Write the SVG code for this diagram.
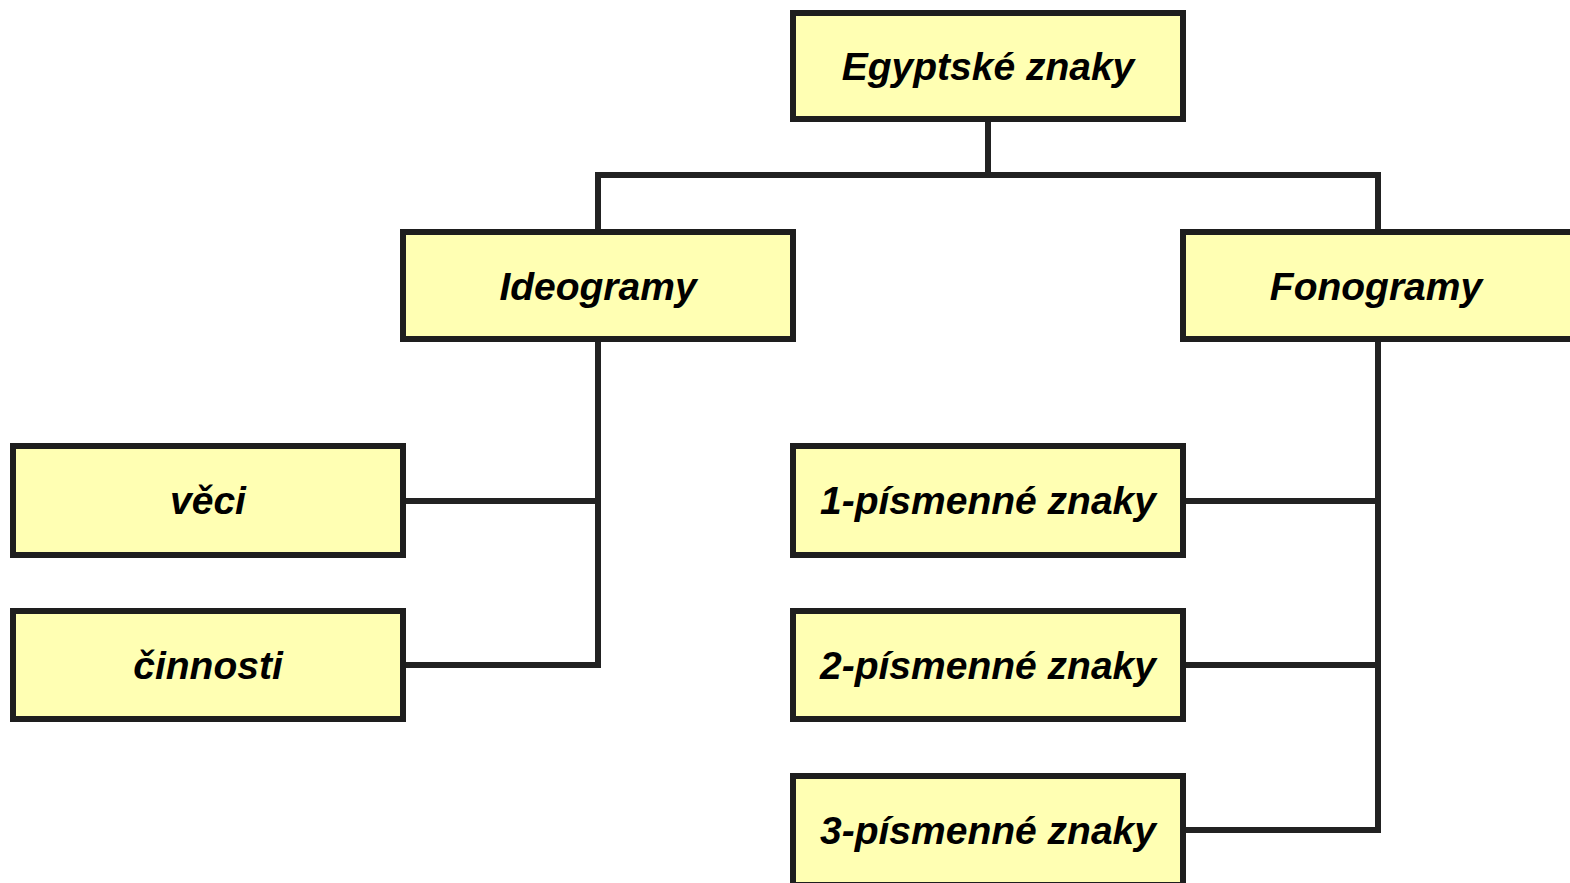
<svg xmlns="http://www.w3.org/2000/svg" width="1570" height="883" viewBox="0 0 1570 883">
<style>
.box{fill:#ffffb3;stroke:#1e1e1e;stroke-width:6}
.lbl{font-family:"Liberation Sans",Arial,sans-serif;font-weight:bold;font-style:italic;font-size:39px;fill:#000;text-anchor:middle}
.con{fill:none;stroke:#222;stroke-width:6;stroke-linecap:square}
</style>
<rect width="1570" height="883" fill="#fff"/>
<g id="connectors">
<path class="con" d="M988 122V175"/>
<path class="con" d="M598 229V175H1378V229"/>
<path class="con" d="M598 342V665H406"/>
<path class="con" d="M406 501H598"/>
<path class="con" d="M1378 342V830H1186"/>
<path class="con" d="M1186 501H1378"/>
<path class="con" d="M1186 665H1378"/>
</g>
<g id="egyptske"><rect class="box" x="793" y="13" width="390" height="106"/><text class="lbl" x="988" y="80">Egyptské znaky</text></g>
<g id="ideogramy"><rect class="box" x="403" y="232" width="390" height="107"/><text class="lbl" x="598" y="300">Ideogramy</text></g>
<g id="fonogramy"><rect class="box" x="1183" y="232" width="390" height="107"/><text class="lbl" x="1376" y="300">Fonogramy</text></g>
<g id="veci"><rect class="box" x="13" y="446" width="390" height="109"/><text class="lbl" x="208" y="514">věci</text></g>
<g id="cinnosti"><rect class="box" x="13" y="611" width="390" height="108"/><text class="lbl" x="208" y="679">činnosti</text></g>
<g id="p1"><rect class="box" x="793" y="446" width="390" height="109"/><text class="lbl" x="988" y="514">1-písmenné znaky</text></g>
<g id="p2"><rect class="box" x="793" y="611" width="390" height="108"/><text class="lbl" x="988" y="679">2-písmenné znaky</text></g>
<g id="p3"><rect class="box" x="793" y="776" width="390" height="109"/><text class="lbl" x="988" y="844">3-písmenné znaky</text></g>
</svg>
